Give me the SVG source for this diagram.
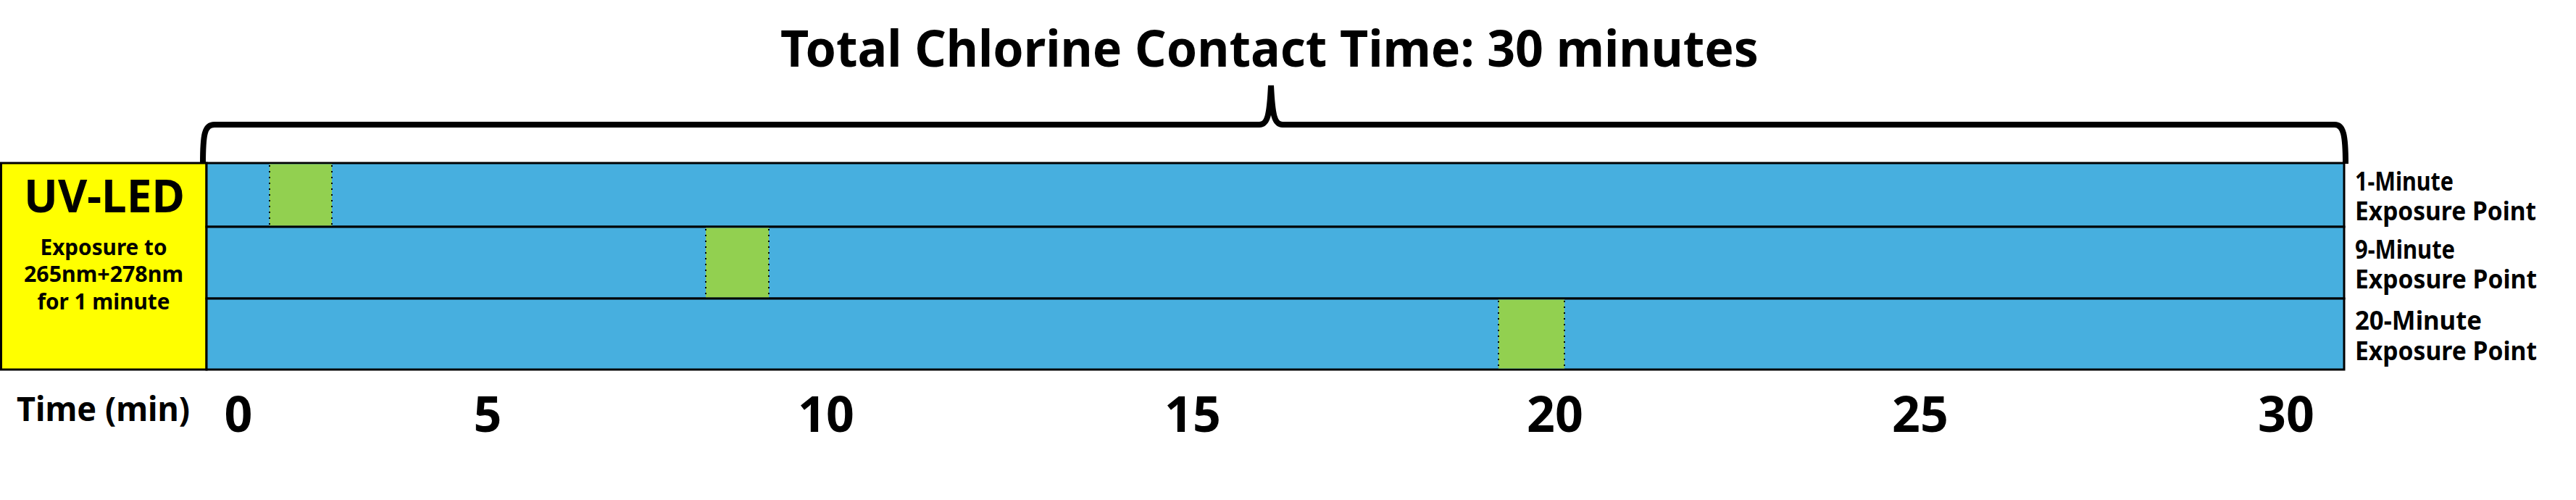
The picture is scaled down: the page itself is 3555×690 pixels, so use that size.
<svg xmlns="http://www.w3.org/2000/svg" width="3555" height="690" viewBox="0 0 3555 690">
<style>
text{font-family:"Noto Sans","Liberation Sans",sans-serif;font-weight:bold;fill:#000}
.row{fill:#47AFDF;stroke:#000;stroke-width:3}
.exp{fill:#92D050}
.dot{stroke:#000;stroke-width:2;stroke-dasharray:2 6;fill:none}
.tick{font-size:68px;text-anchor:middle}
.lbl{font-size:35px}
.sub{font-size:30px;text-anchor:middle}
</style>
<rect width="3555" height="690" fill="#fff"/>
<text x="1752" y="92" font-size="70" text-anchor="middle" textLength="1350" lengthAdjust="spacingAndGlyphs">Total Chlorine Contact Time: 30 minutes</text>
<g id="brace">
<path d="M 280,226 C 280,186 282,172 296,172 L 1738,172 C 1749,172 1752,160 1754,118 C 1756,160 1759,172 1770,172 L 3222,172 C 3234,172 3237,186 3237,226" fill="none" stroke="#000" stroke-width="8"/>
</g>
<g id="uvled">
<rect x="1.5" y="225" width="283.5" height="285" fill="#FFFF00" stroke="#000" stroke-width="3"/>
<text x="144" y="293" font-size="62" text-anchor="middle" textLength="222" lengthAdjust="spacingAndGlyphs">UV-LED</text>
<text class="sub" x="143" y="352" textLength="175" lengthAdjust="spacingAndGlyphs">Exposure to</text>
<text class="sub" x="143" y="389" textLength="220" lengthAdjust="spacingAndGlyphs">265nm+278nm</text>
<text class="sub" x="143" y="427" textLength="183" lengthAdjust="spacingAndGlyphs">for 1 minute</text>
</g>
<g id="row1">
<rect class="row" x="285" y="225" width="2950" height="88"/>
<rect class="exp" x="372" y="226.5" width="86" height="85"/>
<line class="dot" x1="372" y1="228" x2="372" y2="312"/>
<line class="dot" x1="458" y1="228" x2="458" y2="312"/>
<text class="lbl" x="3250" y="263" textLength="136" lengthAdjust="spacingAndGlyphs">1-Minute</text>
<text class="lbl" x="3250" y="304" textLength="250" lengthAdjust="spacingAndGlyphs">Exposure Point</text>
</g>
<g id="row2">
<rect class="row" x="285" y="313" width="2950" height="99"/>
<rect class="exp" x="974" y="314.5" width="87" height="96"/>
<line class="dot" x1="974" y1="316" x2="974" y2="411"/>
<line class="dot" x1="1061" y1="316" x2="1061" y2="411"/>
<text class="lbl" x="3250" y="357" textLength="138" lengthAdjust="spacingAndGlyphs">9-Minute</text>
<text class="lbl" x="3250" y="398" textLength="251" lengthAdjust="spacingAndGlyphs">Exposure Point</text>
</g>
<g id="row3">
<rect class="row" x="285" y="412" width="2950" height="98"/>
<rect class="exp" x="2068" y="413.5" width="91" height="95"/>
<line class="dot" x1="2068" y1="415" x2="2068" y2="509"/>
<line class="dot" x1="2159" y1="415" x2="2159" y2="509"/>
<text class="lbl" x="3250" y="455" textLength="175" lengthAdjust="spacingAndGlyphs">20-Minute</text>
<text class="lbl" x="3250" y="497" textLength="251" lengthAdjust="spacingAndGlyphs">Exposure Point</text>
</g>
<g id="axis">
<text x="23" y="581" font-size="46" textLength="239" lengthAdjust="spacingAndGlyphs">Time (min)</text>
<text class="tick" x="329" y="596">0</text>
<text class="tick" x="673" y="596">5</text>
<text class="tick" x="1140" y="596">10</text>
<text class="tick" x="1646" y="596">15</text>
<text class="tick" x="2146" y="596">20</text>
<text class="tick" x="2650" y="596">25</text>
<text class="tick" x="3155" y="596">30</text>
</g>
</svg>
